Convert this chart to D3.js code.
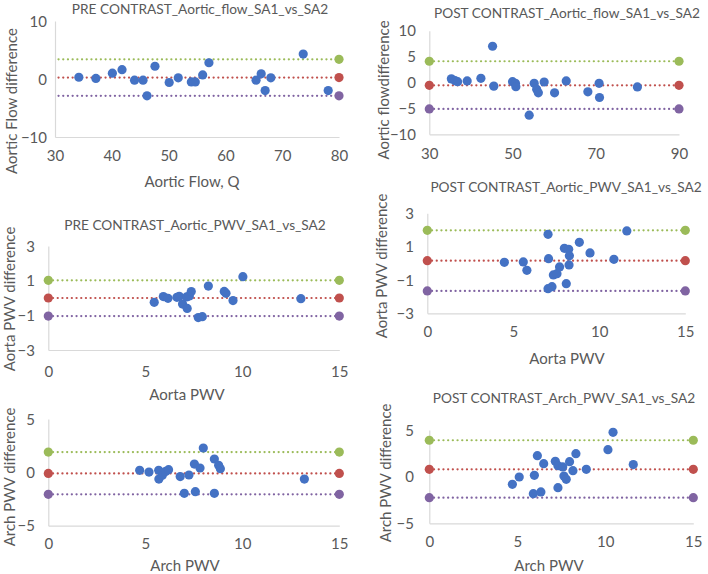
<!DOCTYPE html>
<html>
<head>
<meta charset="utf-8">
<script src="https://cdn.jsdelivr.net/npm/d3@7"></script>
<style>
  html, body { margin: 0; padding: 0; background: #fff; }
  svg { display: block; }
  text { font-family: Lato, "Open Sans", sans-serif; fill: #595959; }
</style>
</head>
<body>
<svg id="chart" width="708" height="574"></svg>
<script>
// ---------- DATA ----------
// Panel 1: PRE CONTRAST aortic flow
const preFlowX = [34.2, 37.2, 40.1, 41.8, 44.0, 45.5, 46.2, 47.6, 50.1, 51.7, 54.0, 54.7, 56.0, 57.1, 65.4, 66.3, 67.0, 68.0, 73.7, 78.1];
const preFlowY = [0.3, 0.1, 1.0, 1.6, -0.2, -0.2, -2.9, 2.2, -0.6, 0.2, -0.5, -0.5, 0.7, 2.8, -0.2, 0.9, -2.0, 0.2, 4.3, -2.0];
const preFlowLimits = [3.4, 0.25, -2.9];        // upper LoA, mean, lower LoA
const preFlowLimitX = [0, 80];
const preFlowXTicks = [30, 40, 50, 60, 70, 80];
const preFlowYTicks = [10, 0, -10];

// Panel 2: POST CONTRAST aortic flow
const postFlowX = [35.3, 36.2, 36.8, 39.1, 42.4, 45.2, 45.5, 50.0, 50.7, 50.8, 55.2, 55.8, 56.2, 54.0, 57.6, 60.1, 62.9, 68.1, 70.8, 70.9, 80.0];
const postFlowY = [0.7, 0.35, 0.15, 0.3, 0.8, 7.0, -0.7, 0.15, -0.15, -0.8, -0.15, -1.3, -2.0, -6.3, 0.1, -2.0, 0.3, -1.8, -0.15, -2.9, -0.85];
const postFlowLimits = [4.1, -0.55, -5.1];
const postFlowLimitX = [30, 90];
const postFlowXTicks = [30, 50, 70, 90];
const postFlowYTicks = [10, 5, 0, -5, -10];

// Panel 3: PRE CONTRAST aortic PWV
const prePwvX = [5.46, 5.93, 6.17, 6.63, 6.75, 6.92, 7.13, 7.16, 7.27, 7.37, 7.73, 7.94, 8.25, 9.07, 9.16, 9.52, 10.03, 13.02];
const prePwvY = [-0.25, 0.08, -0.02, 0.04, 0.1, -0.35, 0.06, -0.6, 0.12, 0.37, -1.13, -1.08, 0.69, 0.38, 0.27, -0.15, 1.23, -0.04];
const prePwvLimits = [1.02, 0.0, -1.04];
const prePwvLimitX = [0, 15];
const prePwvXTicks = [0, 5, 10, 15];
const prePwvYTicks = [3, 1, -1, -3];

// Panel 4: POST CONTRAST aortic PWV
const postPwvX = [4.48, 5.58, 5.79, 7.02, 7.05, 7.02, 7.25, 7.33, 7.54, 7.69, 7.97, 8.08, 8.22, 8.26, 8.24, 8.84, 9.46, 10.85, 11.6];
const postPwvY = [0.06, 0.08, -0.42, 1.74, 0.28, -1.52, -1.4, -0.7, -0.62, -0.22, 0.9, -1.22, 0.84, 0.46, -0.1, 1.26, 0.62, 0.24, 1.94];
const postPwvLimits = [1.98, 0.16, -1.66];
const postPwvLimitX = [0, 15];
const postPwvXTicks = [0, 5, 10, 15];
const postPwvYTicks = [3, 1, -1, -3];

// Panel 5: PRE CONTRAST arch PWV
const preArchX = [4.71, 5.19, 5.69, 5.70, 5.88, 6.05, 6.2, 6.8, 7.25, 7.01, 7.53, 7.58, 7.82, 7.99, 8.56, 8.56, 8.78, 8.87, 13.2];
const preArchY = [0.19, 0.03, 0.19, -0.63, -0.28, 0.09, 0.25, -0.4, -0.25, -1.97, 0.78, -1.81, 0.41, 2.28, 1.25, -1.97, 0.66, 0.34, -0.63];
const preArchLimits = [1.9, -0.1, -2.06];
const preArchLimitX = [0, 15];
const preArchXTicks = [0, 5, 10, 15];
const preArchYTicks = [5, 0, -5];

// Panel 6: POST CONTRAST arch PWV
const postArchX = [4.72, 5.11, 5.97, 5.91, 6.14, 6.34, 6.5, 7.16, 7.31, 7.31, 7.58, 7.65, 7.78, 7.97, 8.16, 8.33, 8.92, 10.15, 10.44, 11.59];
const postArchY = [-0.82, -0.04, 0.14, -1.82, 2.25, -1.64, 1.39, 1.64, 1.18, -1.18, 1.04, 0.07, -0.29, 1.61, 0.64, 2.46, 0.79, 2.89, 4.75, 1.29];
const postArchLimits = [3.9, 0.79, -2.25];
const postArchLimitX = [0, 15];
const postArchXTicks = [0, 5, 10, 15];
const postArchYTicks = [5, 0, -5];

const titles = [
  "PRE CONTRAST_Aortic_flow_SA1_vs_SA2",
  "POST CONTRAST_Aortic_flow_SA1_vs_SA2",
  "PRE CONTRAST_Aortic_PWV_SA1_vs_SA2",
  "POST CONTRAST_Aortic_PWV_SA1_vs_SA2",
  "",
  "POST CONTRAST_Arch_PWV_SA1_vs_SA2"
];
const xTitles = ["Aortic Flow, Q", "", "Aorta PWV", "Aorta PWV", "Arch PWV", "Arch PWV"];
const yTitles = ["Aortic Flow difference", "Aortic flowdifference", "Aorta PWV difference",
                 "Aorta PWV difference", "Arch PWV difference", "Arch PWV difference"];

// ---------- LAYOUT / STYLE ----------
const COLORS = { point: "#4472C4", upper: "#9BBB59", mean: "#C0504D", lower: "#8064A2", axis: "#d9d9d9" };

const panels = [
  { xs: preFlowX, ys: preFlowY, lim: preFlowLimits, limX: preFlowLimitX, xt: preFlowXTicks, yt: preFlowYTicks,
    xd: [30, 80], yd: [-10, 10], L: 55, R: 339, T: 21, B: 137,
    title: [200, 14], xtY: 161, ytX: 47, xTitle: [192, 187], yTitle: [17, 101], leftDot: false },
  { xs: postFlowX, ys: postFlowY, lim: postFlowLimits, limX: postFlowLimitX, xt: postFlowXTicks, yt: postFlowYTicks,
    xd: [30, 90], yd: [-10, 10], L: 429.3, R: 679, T: 30.7, B: 134.3,
    title: [567, 18], xtY: 159, ytX: 416, xTitle: null, yTitle: [389, 90], leftDot: true },
  { xs: prePwvX, ys: prePwvY, lim: prePwvLimits, limX: prePwvLimitX, xt: prePwvXTicks, yt: prePwvYTicks,
    xd: [0, 15], yd: [-3, 3], L: 48.3, R: 339.3, T: 246, B: 350,
    title: [195, 230], xtY: 377, ytX: 35, xTitle: [187, 400], yTitle: [15, 299], leftDot: true },
  { xs: postPwvX, ys: postPwvY, lim: postPwvLimits, limX: postPwvLimitX, xt: postPwvXTicks, yt: postPwvYTicks,
    xd: [0, 15], yd: [-3, 3], L: 427.3, R: 685.3, T: 213.3, B: 313.3,
    title: [566, 192], xtY: 337, ytX: 414, xTitle: [567, 364], yTitle: [387, 266], leftDot: true },
  { xs: preArchX, ys: preArchY, lim: preArchLimits, limX: preArchLimitX, xt: preArchXTicks, yt: preArchYTicks,
    xd: [0, 15], yd: [-5, 5], L: 48.3, R: 339.3, T: 419, B: 525.7,
    title: null, xtY: 549, ytX: 35, xTitle: [185, 571], yTitle: [15, 477], leftDot: true },
  { xs: postArchX, ys: postArchY, lim: postArchLimits, limX: postArchLimitX, xt: postArchXTicks, yt: postArchYTicks,
    xd: [0, 15], yd: [-5, 5], L: 429.3, R: 693.3, T: 430, B: 523.3,
    title: [564, 403], xtY: 547, ytX: 414, xTitle: [549, 571], yTitle: [391, 473], leftDot: true }
];

const svg = d3.select("#chart");
const defs = svg.append("defs");

panels.forEach((p, i) => {
  const x = d3.scaleLinear().domain(p.xd).range([p.L, p.R]);
  const y = d3.scaleLinear().domain(p.yd).range([p.B, p.T]);
  const g = svg.append("g");

  const clipX = p.leftDot ? p.L - 6 : p.L;
  defs.append("clipPath").attr("id", "clip" + i)
    .append("rect").attr("x", clipX).attr("y", p.T - 10)
    .attr("width", p.R + 6 - clipX).attr("height", p.B - p.T + 20);

  const xAxis = d3.axisBottom(x).tickValues(p.xt).tickSize(0).tickPadding(0).tickFormat(d3.format("d"));
  const yAxis = d3.axisLeft(y).tickValues(p.yt).tickSize(0).tickPadding(0).tickFormat(d3.format("d"));

  const gx = g.append("g").attr("transform", `translate(0,${p.B})`).call(xAxis);
  gx.select(".domain").attr("stroke", COLORS.axis).attr("stroke-width", 1.2);
  gx.selectAll(".tick text").attr("y", p.xtY - p.B).attr("dy", 0)
    .attr("font-size", 15).attr("font-family", "Lato, sans-serif").attr("fill", "#595959");

  const gy = g.append("g").attr("transform", `translate(${p.L},0)`).call(yAxis);
  gy.select(".domain").attr("stroke", COLORS.axis).attr("stroke-width", 1.2);
  gy.selectAll(".tick text").attr("x", p.ytX - p.L).attr("dy", "0.35em")
    .attr("font-size", 15).attr("font-family", "Lato, sans-serif").attr("fill", "#595959")
    .attr("text-anchor", "end");

  // limit-of-agreement lines
  const limColors = [COLORS.upper, COLORS.mean, COLORS.lower];
  const lg = g.append("g").attr("clip-path", `url(#clip${i})`);
  p.lim.forEach((v, k) => {
    lg.append("line")
      .attr("x1", x(p.limX[0])).attr("x2", x(p.limX[1]))
      .attr("y1", y(v)).attr("y2", y(v))
      .attr("stroke", limColors[k]).attr("stroke-width", 2.2)
      .attr("stroke-dasharray", "0.1,4.6").attr("stroke-linecap", "round");
    p.limX.forEach(xv => {
      lg.append("circle").attr("cx", x(xv)).attr("cy", y(v)).attr("r", 4.6)
        .attr("fill", limColors[k]);
    });
  });

  // data points
  const pts = p.xs.map((xv, j) => ({ x: xv, y: p.ys[j] }));
  g.append("g").selectAll("circle").data(pts).join("circle")
    .attr("cx", d => x(d.x)).attr("cy", d => y(d.y)).attr("r", 4.6)
    .attr("fill", COLORS.point);

  // titles
  if (p.title && titles[i]) {
    svg.append("text").attr("x", p.title[0]).attr("y", p.title[1])
      .attr("text-anchor", "middle").attr("font-size", 13.7).text(titles[i]);
  }
  if (p.xTitle && xTitles[i]) {
    svg.append("text").attr("x", p.xTitle[0]).attr("y", p.xTitle[1])
      .attr("text-anchor", "middle").attr("font-size", 15).text(xTitles[i]);
  }
  if (p.yTitle) {
    svg.append("text")
      .attr("transform", `translate(${p.yTitle[0]},${p.yTitle[1]}) rotate(-90)`)
      .attr("text-anchor", "middle").attr("font-size", 15).text(yTitles[i]);
  }
});
</script>
</body>
</html>
